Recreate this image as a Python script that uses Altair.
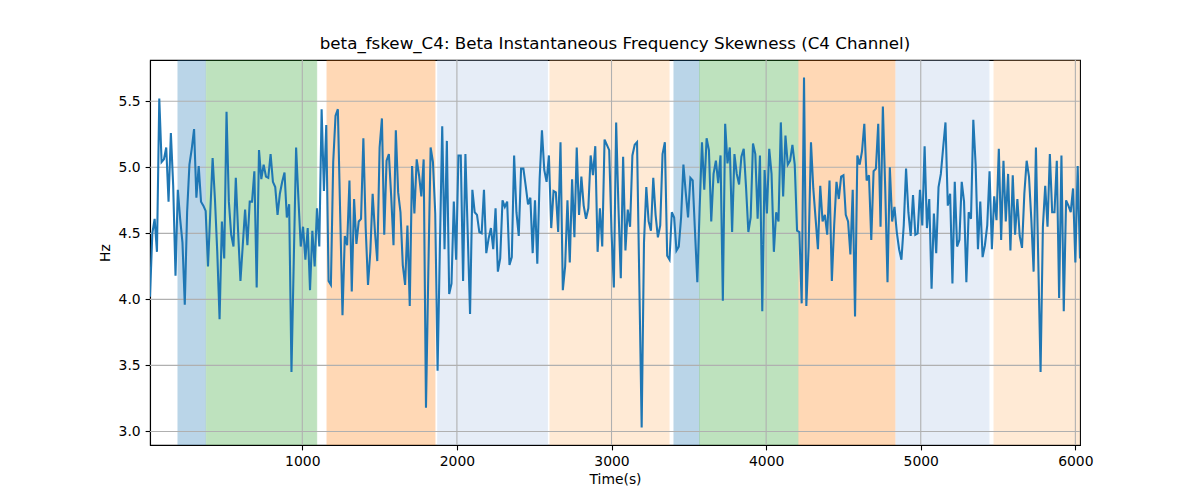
import altair as alt
import pandas as pd

# Beta instantaneous frequency skewness, one value every 15 s
values = [
    4.02, 4.50, 4.61, 4.36, 5.52, 5.04, 5.06, 5.15, 4.74, 5.26,
    4.86, 4.18, 4.83, 4.61, 4.43, 3.96, 4.66, 5.02, 5.14, 5.29,
    4.77, 5.01, 4.74, 4.71, 4.67, 4.25, 4.66, 5.07, 4.76, 4.36,
    3.85, 4.59, 4.31, 5.42, 4.74, 4.49, 4.40, 4.92, 4.51, 4.14,
    4.41, 4.68, 4.41, 4.74, 4.74, 4.97, 4.09, 5.13, 4.91, 5.02,
    4.93, 4.92, 5.10, 4.89, 4.85, 4.64, 4.80, 4.89, 4.96, 4.62,
    4.72, 3.45, 4.30, 5.15, 4.76, 4.40, 4.55, 4.30, 4.54, 4.07,
    4.52, 4.25, 4.69, 4.40, 5.44, 4.82, 5.32, 4.14, 4.11, 5.04,
    5.39, 5.44, 4.65, 3.88, 4.48, 4.41, 4.90, 4.06, 4.76, 4.42,
    4.59, 4.61, 5.22, 4.54, 4.11, 4.36, 4.80, 4.51, 4.29, 5.15,
    5.37, 4.49, 5.05, 5.10, 4.78, 4.41, 5.28, 4.81, 4.66, 4.26,
    4.11, 4.56, 3.95, 5.01, 4.65, 5.06, 4.94, 4.78, 5.06, 3.18,
    4.20, 5.15, 5.04, 4.65, 3.46, 4.40, 5.31, 4.38, 5.20, 4.04,
    4.12, 4.74, 4.30, 5.09, 5.09, 4.14, 5.10, 4.50, 3.89, 4.83,
    4.66, 4.64, 4.51, 4.50, 4.83, 4.35, 4.46, 4.54, 4.38, 4.69,
    4.21, 4.31, 4.75, 4.70, 4.74, 4.26, 4.32, 5.09, 4.66, 4.48,
    4.99, 4.99, 4.86, 4.72, 4.77, 4.35, 4.75, 4.27, 4.91, 5.28,
    4.98, 4.89, 5.09, 4.54, 4.82, 4.81, 4.51, 5.19, 4.07, 4.25,
    4.75, 4.28, 4.91, 4.47, 5.15, 4.64, 4.93, 4.71, 4.61, 4.69,
    5.09, 4.94, 5.16, 4.36, 4.69, 4.40, 5.21, 5.17, 5.13, 4.51,
    4.09, 5.34, 4.69, 4.16, 5.08, 4.37, 4.68, 4.55, 5.09, 5.17,
    5.19, 4.11, 3.03, 4.43, 4.85, 4.59, 4.52, 4.92, 4.64, 4.47,
    4.56, 5.10, 5.19, 4.33, 4.30, 4.66, 4.62, 4.37, 4.40, 4.62,
    5.02, 4.81, 4.62, 4.92, 4.90, 4.51, 4.13, 4.69, 5.19, 4.83,
    5.22, 5.13, 4.59, 4.95, 5.05, 4.88, 5.09, 3.99, 5.33, 5.03,
    5.15, 4.51, 5.10, 4.95, 4.87, 5.08, 5.14, 4.85, 4.51, 4.62,
    5.18, 5.10, 4.61, 5.09, 3.91, 4.98, 4.65, 5.14, 4.95, 4.36,
    4.66, 4.59, 5.34, 4.78, 5.24, 5.02, 5.05, 5.17, 5.02, 4.52,
    4.51, 3.97, 5.68, 3.95, 4.40, 5.19, 4.84, 4.61, 4.38, 4.86,
    4.59, 4.64, 4.49, 4.90, 4.14, 4.56, 4.89, 4.76, 4.93, 4.94,
    4.64, 4.59, 4.34, 4.83, 3.87, 5.09, 5.02, 5.12, 5.33, 4.90,
    4.94, 4.45, 4.97, 4.99, 5.33, 4.55, 5.46, 4.85, 4.13, 5.00,
    4.59, 4.70, 4.51, 4.38, 4.30, 4.56, 4.99, 4.66, 4.48, 4.79,
    4.49, 4.50, 4.83, 4.56, 5.16, 4.54, 4.76, 4.08, 4.65, 4.35,
    4.85, 4.95, 5.15, 5.34, 4.71, 4.80, 4.12, 4.89, 4.40, 4.45,
    4.89, 4.74, 4.13, 4.66, 4.61, 5.36, 5.02, 4.38, 4.74, 4.32,
    4.41, 4.56, 4.97, 4.38, 4.78, 4.60, 5.14, 4.45, 5.05, 4.59,
    4.95, 4.37, 4.94, 4.49, 4.76, 4.48, 4.39, 4.80, 5.05, 4.93,
    4.61, 4.21, 5.15, 4.30, 3.45, 4.55, 4.86, 4.55, 5.10, 4.66,
    4.66, 5.05, 4.01, 5.09, 3.91, 4.75, 4.71, 4.66, 4.84, 4.28,
    5.01, 4.31,
]
time_start = 15
time_step = 15
times = [time_start + time_step * i for i in range(len(values))]

# Shaded stage bands
band_start = [196, 379, 1160, 1876, 2602, 3404, 3570, 4212, 4840, 5474]
band_end = [373, 1093, 1858, 2585, 3372, 3566, 4206, 4833, 5441, 6060]
band_color = ["#1f77b4", "#2ca02c", "#ff7f0e", "#aec7e8", "#ffbb78",
              "#1f77b4", "#2ca02c", "#ff7f0e", "#aec7e8", "#ffbb78"]

x_ticks = [1000, 2000, 3000, 4000, 5000, 6000]
y_ticks = [3.0, 3.5, 4.0, 4.5, 5.0, 5.5]
x_domain = [15, 6030]
y_domain = [2.8975, 5.8125]

series = pd.DataFrame({"t": times, "v": values})
bands = pd.DataFrame({"start": band_start, "end": band_end, "color": band_color})
xgrid = pd.DataFrame({"g": x_ticks})
ygrid = pd.DataFrame({"g": y_ticks})

xscale = alt.Scale(domain=x_domain, nice=False, zero=False)
yscale = alt.Scale(domain=y_domain, nice=False, zero=False)
x_axis = alt.Axis(values=x_ticks, format="d", title="Time(s)", titlePadding=4, grid=False)
y_axis = alt.Axis(values=y_ticks, format=".1f", title="Hz", titlePadding=6, grid=False)

band_layer = alt.Chart(bands).mark_rect(opacity=0.3, strokeWidth=1, clip=True).encode(
    x=alt.X("start:Q", scale=xscale, axis=x_axis),
    x2="end:Q",
    color=alt.Color("color:N", scale=None),
    stroke=alt.Stroke("color:N", scale=None),
)

# grid drawn above the shaded bands but below the line, as in the original
xgrid_layer = alt.Chart(xgrid).mark_rule(color="#b0b0b0", strokeWidth=1.1).encode(
    x=alt.X("g:Q", scale=xscale, axis=x_axis)
)
ygrid_layer = alt.Chart(ygrid).mark_rule(color="#b0b0b0", strokeWidth=1.1).encode(
    y=alt.Y("g:Q", scale=yscale, axis=y_axis)
)

line_layer = alt.Chart(series).mark_line(color="#1f77b4", strokeWidth=2.08, clip=True).encode(
    x=alt.X("t:Q", scale=xscale, axis=x_axis),
    y=alt.Y("v:Q", scale=yscale, axis=y_axis),
)

chart = alt.layer(band_layer, xgrid_layer, ygrid_layer, line_layer).properties(
    width=930,
    height=385,
    autosize=alt.AutoSizeParams(type="none"),
    padding={"left": 142, "top": 52, "right": 100, "bottom": 44},
    title=alt.Title(
        "beta_fskew_C4: Beta Instantaneous Frequency Skewness (C4 Channel)",
        fontSize=16.7, font="DejaVu Sans", fontWeight="normal", color="black",
        anchor="middle", baseline="alphabetic", offset=8, dy=14,
    ),
).configure_view(
    stroke="black", strokeWidth=1.1
).configure_axis(
    domainColor="black", domainWidth=1.1,
    tickColor="black", tickWidth=1.1, tickSize=4.9,
    labelPadding=4.9, labelFont="DejaVu Sans", labelFontSize=13.9, labelColor="black",
    titleFont="DejaVu Sans", titleFontSize=13.9, titleFontWeight="normal", titleColor="black",
)

chart.save("out.html", embed_options={"renderer": "svg", "actions": False})
